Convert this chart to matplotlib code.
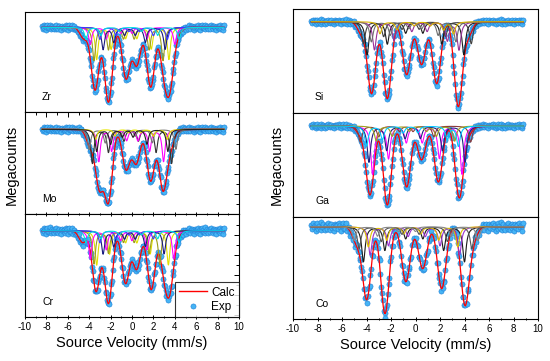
import numpy as np
import matplotlib.pyplot as plt
from matplotlib.lines import Line2D

plt.rcParams['font.family'] = ['Liberation Sans', 'DejaVu Sans']

# velocity channels (mm/s)
vel_left = np.linspace(-8.4, 8.6, 256)
vel_right = np.linspace(-8.5, 8.8, 256)

# envelope minima: position (mm/s), depth (fraction of baseline)
zr_v = [-4.5, -3.45, -2.2, -0.55, 0.44, 1.75, 3.0, 3.55, 4.3]
zr_d = [0.012, 0.063, 0.075, 0.052, 0.039, 0.060, 0.056, 0.066, 0.012]
mo_v = [-3.9, -3.05, -2.2, -0.55, 0.4, 1.75, 2.9, 3.6]
mo_d = [0.020, 0.062, 0.074, 0.041, 0.035, 0.052, 0.062, 0.025]
cr_v = [-4.6, -3.35, -2.2, -0.6, 0.44, 1.8, 3.0, 3.55, 4.3]
cr_d = [0.012, 0.061, 0.073, 0.053, 0.039, 0.059, 0.052, 0.064, 0.010]
si_v = [-4.4, -3.58, -2.3, -0.72, 0.5, 1.73, 3.49, 4.3]
si_d = [0.015, 0.072, 0.077, 0.053, 0.043, 0.062, 0.085, 0.018]
ga_v = [-4.5, -3.71, -2.3, -0.72, 0.5, 1.87, 3.57, 4.3]
ga_d = [0.012, 0.069, 0.079, 0.061, 0.034, 0.056, 0.072, 0.014]
co_v = [-4.8, -3.98, -2.49, -0.78, 0.59, 2.14, 4.04, 4.7]
co_d = [0.020, 0.073, 0.087, 0.055, 0.042, 0.062, 0.079, 0.024]

# scatter of the measured points around the fit (fraction of baseline x 1000)
resid = [0.8, -1.5, 2.1, -0.4, 1.2, -2.3, 0.3, 1.9, -1.1, 0.6, -0.8, 2.5, -1.9, 0.1,
         1.4, -0.6, -2.0, 1.0, 0.4, -1.3, 2.2, -0.2, -1.7, 0.9, 1.6, -0.9, 0.2, -2.4,
         1.3, -0.5, 0.7]

# sextet sub-spectra: colour, six line positions, depth of outer lines
ratio = [3, 2, 1, 1, 2, 3]
zr_comp_col = ['#e0e000', '#9c9c1c', '#ff00ff', '#1a1a80', '#3c3cff', '#00e0e0']
zr_comp_pos = [[-3.3, -1.95, -0.6, 0.45, 1.8, 3.45],
               [-3.55, -2.2, -0.8, 0.2, 1.6, 2.9],
               [-3.9, -2.4, -1.05, 0.0, 1.4, 4.0],
               [-2.7, -1.7, -0.7, 0.3, 1.25, 3.1],
               [-3.0, -1.5, -0.3, 0.7, 2.0, 3.3],
               [-4.3, -2.9, -1.2, 0.9, 2.4, 4.4]]
zr_comp_d = [0.032, 0.033, 0.017, 0.022, 0.012, 0.012]
mo_comp_col = ['#333333', '#ff00ff', '#777777', '#e6e600', '#222222']
mo_comp_pos = [[-3.7, -2.2, -0.75, 0.6, 2.25, 3.7],
               [-3.1, -1.9, -0.5, 0.55, 1.65, 2.95],
               [-4.0, -2.5, -1.1, 0.3, 1.9, 4.1],
               [-3.4, -1.6, -0.3, 0.8, 2.0, 3.3],
               [-3.3, -2.0, -0.9, 0.1, 1.4, 3.35]]
mo_comp_d = [0.034, 0.032, 0.020, 0.010, 0.022]
cr_comp_col = ['#e0e000', '#9c9c1c', '#ff00ff', '#1a1a80', '#3c3cff', '#00e0e0']
cr_comp_pos = [[-3.3, -2.1, -0.6, 0.45, 1.7, 3.4],
               [-3.55, -2.2, -0.8, 0.2, 1.6, 2.6],
               [-3.9, -2.4, -1.05, 0.0, 1.4, 3.9],
               [-2.7, -1.7, -0.7, 0.3, 1.25, 3.0],
               [-3.0, -1.5, -0.3, 0.7, 2.0, 4.4],
               [-4.3, -2.9, -1.2, 0.9, 2.4, 4.4]]
cr_comp_d = [0.034, 0.033, 0.028, 0.023, 0.012, 0.012]
si_comp_col = ['#1a1a1a', '#404040', '#993399', '#6e6e6e', '#d9b300']
si_comp_pos = [[-3.95, -2.3, -0.8, 0.6, 2.15, 3.95],
               [-4.25, -2.6, -1.1, 0.3, 2.45, 4.55],
               [-3.35, -1.75, -0.3, 0.95, 2.6, 3.55],
               [-3.6, -2.05, -0.55, 0.5, 1.85, 3.3],
               [-2.9, -1.5, -0.1, 1.2, 2.3, 3.1]]
si_comp_d = [0.033, 0.022, 0.028, 0.020, 0.012]
ga_comp_col = ['#ff00ff', '#202080', '#8b3a3a', '#a0a020', '#00c8ff']
ga_comp_pos = [[-3.5, -2.2, -0.75, 0.55, 1.95, 3.8],
               [-3.8, -2.35, -0.85, 0.4, 2.2, 4.05],
               [-4.5, -3.0, -1.3, -0.2, 1.5, 4.5],
               [-3.2, -1.9, -0.5, 0.9, 1.7, 3.2],
               [-4.0, -2.7, -1.0, 0.2, 2.6, 3.5]]
ga_comp_d = [0.048, 0.036, 0.016, 0.015, 0.020]
co_comp_col = ['#1a1a1a', '#9933cc', '#e0c000', '#555555', '#888888']
co_comp_pos = [[-4.25, -2.5, -0.8, 0.6, 2.3, 4.0],
               [-3.7, -2.2, -0.6, 0.8, 2.0, 3.6],
               [-3.85, -2.35, -0.95, 0.45, 1.9, 3.45],
               [-4.6, -2.8, -1.1, 0.3, 2.6, 4.6],
               [-5.0, -3.1, -1.4, 0.0, 2.9, 5.1]]
co_comp_d = [0.035, 0.028, 0.020, 0.022, 0.014]


def lorentz(v, c, hw):
    return 1.0 / (1.0 + ((v - c) / hw) ** 2)


def gauss(v, c, s):
    return np.exp(-0.5 * ((v - c) / s) ** 2)


def envelope(v, cen, dep, s):
    cen = np.asarray(cen)
    # amplitudes so that the envelope has the read depth at each minimum
    mat = gauss(cen[:, None], cen[None, :], s)
    amp = np.linalg.solve(mat, np.asarray(dep))
    return 1.0 - sum(a * gauss(v, c, s) for a, c in zip(amp, cen))


def px_axes(fig, x0, x1, top, bottom):
    W, H = 550, 361
    return fig.add_axes([x0 / W, 1 - bottom / H, (x1 - x0) / W, (bottom - top) / H])


fig = plt.figure(figsize=(5.5, 3.61), dpi=100)

panels = [
    ('Zr', zr_v, zr_d, zr_comp_col, zr_comp_pos, zr_comp_d, (25, 239, 12, 112), 27.3, vel_left, 1.0, 0.36, 'L', 0),
    ('Mo', mo_v, mo_d, mo_comp_col, mo_comp_pos, mo_comp_d, (25, 239, 112, 214), 129.3, vel_left, 1.0, 0.36, 'L', 1),
    ('Cr', cr_v, cr_d, cr_comp_col, cr_comp_pos, cr_comp_d, (25, 239, 214, 317), 230.7, vel_left, 1.3, 0.36, 'L', 2),
    ('Si', si_v, si_d, si_comp_col, si_comp_pos, si_comp_d, (293, 538, 9, 113), 21.7, vel_right, 1.0, 0.33, 'R', 0),
    ('Ga', ga_v, ga_d, ga_comp_col, ga_comp_pos, ga_comp_d, (293, 538, 113, 217), 126.0, vel_right, 0.8, 0.33, 'R', 1),
    ('Co', co_v, co_d, co_comp_col, co_comp_pos, co_comp_d, (293, 538, 217, 319), 226.7, vel_right, 1.8, 0.34, 'R', 2),
]

for name, cv, cd, ccol, cpos, cdep, box, base, vel, noise, s, col, row in panels:
    x0, x1, top, bottom = box
    ax = px_axes(fig, x0, x1, top, bottom)
    fine = np.linspace(vel[0], vel[-1], 800)
    y_calc = envelope(fine, cv, cd, s)
    y_exp = envelope(vel, cv, cd, s) + noise * np.resize(resid, len(vel)) / 1000

    ax.plot(vel, y_exp, 'o', ms=3.7, mfc='#45b4f5', mec='#1f7fd6', mew=0.4, zorder=2)
    ax.plot(fine, y_calc, color='red', lw=0.9, zorder=3)
    for c, pos, d in zip(ccol, cpos, cdep):
        y_c = 1.0 - sum(d * r / 3 * lorentz(fine, p, 0.17) for p, r in zip(pos, ratio))
        ax.plot(fine, y_c, color=c, lw=0.8, zorder=4)

    ax.set_xlim(-10, 10)
    ax.set_ylim(1 - (bottom - base) / 1000, 1 + (base - top) / 1000)
    ax.set_xticks(np.arange(-10, 11, 2))
    ax.set_xticklabels([str(t) for t in range(-10, 11, 2)])
    ax.set_xticks(np.arange(-10, 11, 1), minor=True)
    ax.set_yticks(1 - 0.0044 - 0.02 * np.arange(5))
    ax.set_yticks(1 + 0.0056 - 0.02 * np.arange(5), minor=True)
    for sp in ax.spines.values():
        sp.set_linewidth(0.8)

    last = row == 2
    top_ticks = col == 'L' and row > 0
    ax.tick_params(axis='x', which='both', bottom=last, top=top_ticks, labelbottom=last,
                   direction='in', labelsize=7, pad=2, width=0.7)
    if last:
        ax.tick_params(axis='x', which='both', bottom=True, direction='out')
        ax.tick_params(axis='x', which='both', top=top_ticks, direction='inout')
    ax.tick_params(axis='x', which='major', length=3.5)
    ax.tick_params(axis='x', which='minor', length=2)
    ax.tick_params(axis='y', which='both', left=False, right=(col == 'L'),
                   labelleft=False, direction='in', width=0.7)
    ax.tick_params(axis='y', which='major', length=3.5)
    ax.tick_params(axis='y', which='minor', length=2)

    lx = 0.08 if col == 'L' else 0.09
    ax.text(lx, 0.15, name, transform=ax.transAxes, fontsize=7.5, va='center')

    if last:
        ax.set_xlabel('Source Velocity (mm/s)', fontsize=10.5, labelpad=3)
    if name == 'Cr':
        h1 = Line2D([], [], color='red', lw=1)
        h2 = Line2D([], [], ls='none', marker='o', ms=3.7, mfc='#45b4f5', mec='#1f7fd6', mew=0.4)
        leg = ax.legend([h1, h2], ['Calc', 'Exp'], loc='lower right', fontsize=8.5,
                        frameon=True, fancybox=False, borderaxespad=0, handlelength=2.3,
                        handletextpad=0.4, borderpad=0.35, labelspacing=0.2, numpoints=1)
        leg.get_frame().set_edgecolor('black')
        leg.get_frame().set_linewidth(0.8)

fig.text(12 / 550, 1 - 165 / 361, 'Megacounts', rotation=90, fontsize=10.5, ha='center', va='center')
fig.text(277 / 550, 1 - 165 / 361, 'Megacounts', rotation=90, fontsize=10.5, ha='center', va='center')

fig.savefig('out.png', dpi=100)
